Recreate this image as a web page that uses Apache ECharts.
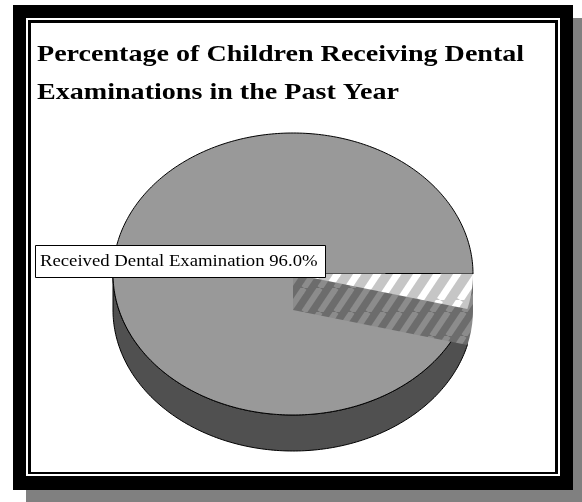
<!DOCTYPE html>
<html>
<head>
<meta charset="utf-8">
<script src="https://cdn.jsdelivr.net/npm/echarts@6/dist/echarts.min.js"></script>
<style>
  html, body { margin: 0; padding: 0; background: #ffffff; }
  #chart { width: 582px; height: 502px; }
</style>
</head>
<body>
<div id="chart"></div>
<script>
// Slice names and their shares of children (percent)
const categories = ['Received Dental Examination', 'No Dental Examination'];
const percentValues = [96.0, 4.0];
const titleLines = ['Percentage of Children Receiving Dental', 'Examinations in the Past Year'];

// Layout of the tilted pie
const CX = 293, CY = 274, RX = 180, RY = 141, DEPTH = 36;
const SERIF = '"Liberation Serif", "Times New Roman", serif';
const STRETCH = 1.17; // horizontal text stretch

// Diagonal hatch tile used for the small slice
function hatch(bg, fg, w, h, lw) {
  const c = document.createElement('canvas');
  c.width = w; c.height = h;
  const g = c.getContext('2d');
  g.fillStyle = bg; g.fillRect(0, 0, w, h);
  g.strokeStyle = fg; g.lineWidth = lw;
  for (const o of [-w, 0, w]) {
    g.beginPath(); g.moveTo(o, h); g.lineTo(o + w, 0); g.stroke();
  }
  return { image: c, repeat: 'repeat' };
}
const lightHatch = hatch('#c6c6c6', '#ffffff', 20, 30, 7);
const darkHatch = hatch('#6c6c6c', '#8c8c8c', 16, 24, 6);

// Cumulative angles (degrees, counter-clockwise from 3 o'clock)
const total = percentValues.reduce((s, v) => s + v, 0);
const angles = [];
let acc = 0;
percentValues.forEach(v => {
  const a0 = acc / total * 360;
  acc += v;
  angles.push([a0, acc / total * 360]);
});

function pt(a, dy) {
  const r = a * Math.PI / 180;
  return [CX + RX * Math.cos(r), CY - RY * Math.sin(r) + (dy || 0)];
}
function arc(a0, a1, dy) {
  const pts = [];
  const n = Math.max(2, Math.ceil(Math.abs(a1 - a0)));
  for (let i = 0; i <= n; i++) pts.push(pt(a0 + (a1 - a0) * i / n, dy));
  return pts;
}

function renderItem(params, api) {
  const i = params.dataIndex;
  const [a0, a1] = angles[i];
  const children = [];
  if (i === 0) {
    // front wall of the large slice
    const s0 = Math.max(a0, 180), s1 = Math.min(a1, 360);
    if (s1 > s0) {
      const wall = arc(s0, s1, 0).concat(arc(s1, s0, DEPTH));
      children.push({ type: 'polygon', shape: { points: wall },
        style: { fill: '#505050', stroke: '#000000', lineWidth: 1 } });
    }
    // top face
    const top = [[CX, CY]].concat(arc(a0, a1, 0));
    children.push({ type: 'polygon', shape: { points: top },
      style: { fill: '#999999', stroke: '#000000', lineWidth: 1 } });
    // value label
    const txt = categories[i] + ' ' + api.value(0).toFixed(1) + '%';
    children.push({ type: 'rect', z2: 100,
      shape: { x: 35.5, y: 245.5, width: 290, height: 32 },
      style: { fill: '#ffffff', stroke: '#000000', lineWidth: 1 } });
    children.push({ type: 'text', z2: 101, x: 40, y: 262, scaleX: STRETCH,
      style: { text: txt, font: '16px ' + SERIF, fill: '#000000', verticalAlign: 'middle' } });
  } else {
    // label frame sitting behind the raised slice
    children.push({ type: 'rect',
      shape: { x: 385.5, y: 273.5, width: 55, height: 18 },
      style: { fill: '#ffffff', stroke: '#000000', lineWidth: 1 } });
    // side walls of the small slice
    const side = [[CX, CY], [CX, CY + DEPTH]].concat(arc(a0, a1, DEPTH), [pt(a1, 0)]);
    children.push({ type: 'polygon', shape: { points: side }, style: { fill: darkHatch } });
    // top face
    const top = [[CX, CY]].concat(arc(a0, a1, 0));
    children.push({ type: 'polygon', shape: { points: top }, style: { fill: lightHatch } });
  }
  return { type: 'group', children };
}

const chart = echarts.init(document.getElementById('chart'), null, { renderer: 'canvas' });
chart.setOption({
  backgroundColor: '#ffffff',
  animation: false,
  graphic: [
    // drop shadow and framed border
    { type: 'rect', z: 0, shape: { x: 26, y: 18, width: 556, height: 484 }, style: { fill: '#808080' } },
    { type: 'rect', z: 0, shape: { x: 13, y: 5, width: 560, height: 485 }, style: { fill: '#000000' } },
    { type: 'rect', z: 0, shape: { x: 26, y: 18, width: 534, height: 458 }, style: { fill: '#ffffff' } },
    { type: 'rect', z: 0, shape: { x: 28, y: 20, width: 530, height: 454 }, style: { fill: '#000000' } },
    { type: 'rect', z: 0, shape: { x: 31, y: 23, width: 524, height: 449 }, style: { fill: '#ffffff' } },
    // title
    { type: 'text', z: 5, x: 37, y: 55, scaleX: STRETCH,
      style: { text: titleLines[0], font: 'bold 24px ' + SERIF, fill: '#000000', verticalAlign: 'middle' } },
    { type: 'text', z: 5, x: 37, y: 93, scaleX: STRETCH,
      style: { text: titleLines[1], font: 'bold 24px ' + SERIF, fill: '#000000', verticalAlign: 'middle' } }
  ],
  series: [{
    type: 'custom',
    coordinateSystem: 'none',
    z: 2,
    renderItem: renderItem,
    data: percentValues.map((v, i) => ({ name: categories[i], value: [v] }))
  }]
});
</script>
</body>
</html>
